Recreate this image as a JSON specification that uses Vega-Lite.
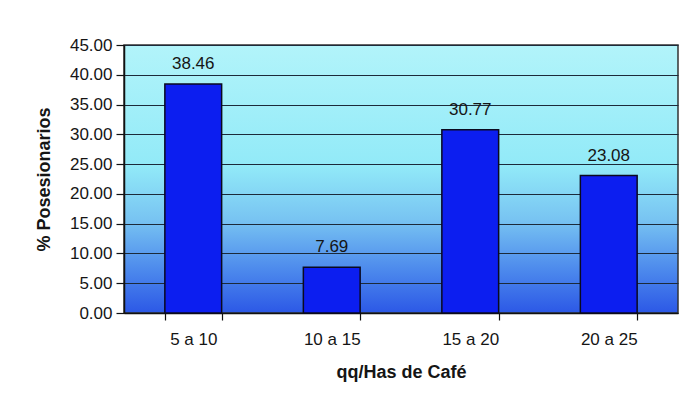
{
  "$schema": "https://vega.github.io/schema/vega-lite/v6.json",
  "autosize": {"type": "none"},
  "width": 554,
  "height": 268,
  "padding": {"left": 124, "top": 45, "right": 8, "bottom": 88},
  "background": "white",
  "config": {
    "font": "Liberation Sans",
    "view": {
      "stroke": "#333333",
      "strokeWidth": 1.5,
      "fill": {
        "gradient": "linear",
        "x1": 0, "y1": 0, "x2": 0, "y2": 1,
        "stops": [
          {"offset": 0, "color": "#b2f4fa"},
          {"offset": 0.45, "color": "#92eaf8"},
          {"offset": 0.65, "color": "#78c4f2"},
          {"offset": 0.85, "color": "#4a86ec"},
          {"offset": 1, "color": "#2c58e6"}
        ]
      }
    },
    "axis": {
      "labelFont": "Liberation Sans",
      "titleFont": "Liberation Sans",
      "labelColor": "#151515",
      "titleColor": "#151515",
      "labelFontSize": 17,
      "titleFontSize": 18,
      "titleFontWeight": "bold",
      "domainColor": "#111111",
      "tickColor": "#111111",
      "domainWidth": 1.5,
      "tickWidth": 1.2
    }
  },
  "data": {
    "values": [
      {"rango": "5 a 10", "pct": 38.46},
      {"rango": "10 a 15", "pct": 7.69},
      {"rango": "15 a 20", "pct": 30.77},
      {"rango": "20 a 25", "pct": 23.08}
    ]
  },
  "encoding": {
    "x": {
      "field": "rango",
      "type": "nominal",
      "sort": null,
      "scale": {"paddingInner": 0.59, "paddingOuter": 0.295},
      "axis": {
        "title": "qq/Has de Café",
        "labelAngle": 0,
        "tickBand": "extent",
        "tickSize": 7,
        "labelPadding": 11,
        "titlePadding": 16,
        "grid": false
      }
    },
    "y": {
      "field": "pct",
      "type": "quantitative",
      "scale": {"domain": [0, 45], "nice": false},
      "axis": {
        "title": "% Posesionarios",
        "values": [0, 5, 10, 15, 20, 25, 30, 35, 40, 45],
        "format": ".2f",
        "tickSize": 8,
        "labelPadding": 4,
        "titlePadding": 16,
        "grid": true,
        "gridColor": "#1c2a3a",
        "gridWidth": 1.2,
        "gridOpacity": 1
      }
    }
  },
  "layer": [
    {
      "mark": {"type": "bar", "fill": "#0c1ef0", "stroke": "#0a0a20", "strokeWidth": 1.5}
    },
    {
      "mark": {"type": "text", "baseline": "alphabetic", "dy": -15, "fontSize": 17, "color": "#151515", "font": "Liberation Sans"},
      "encoding": {
        "text": {"field": "pct", "type": "quantitative", "format": ".2f"}
      }
    }
  ]
}
